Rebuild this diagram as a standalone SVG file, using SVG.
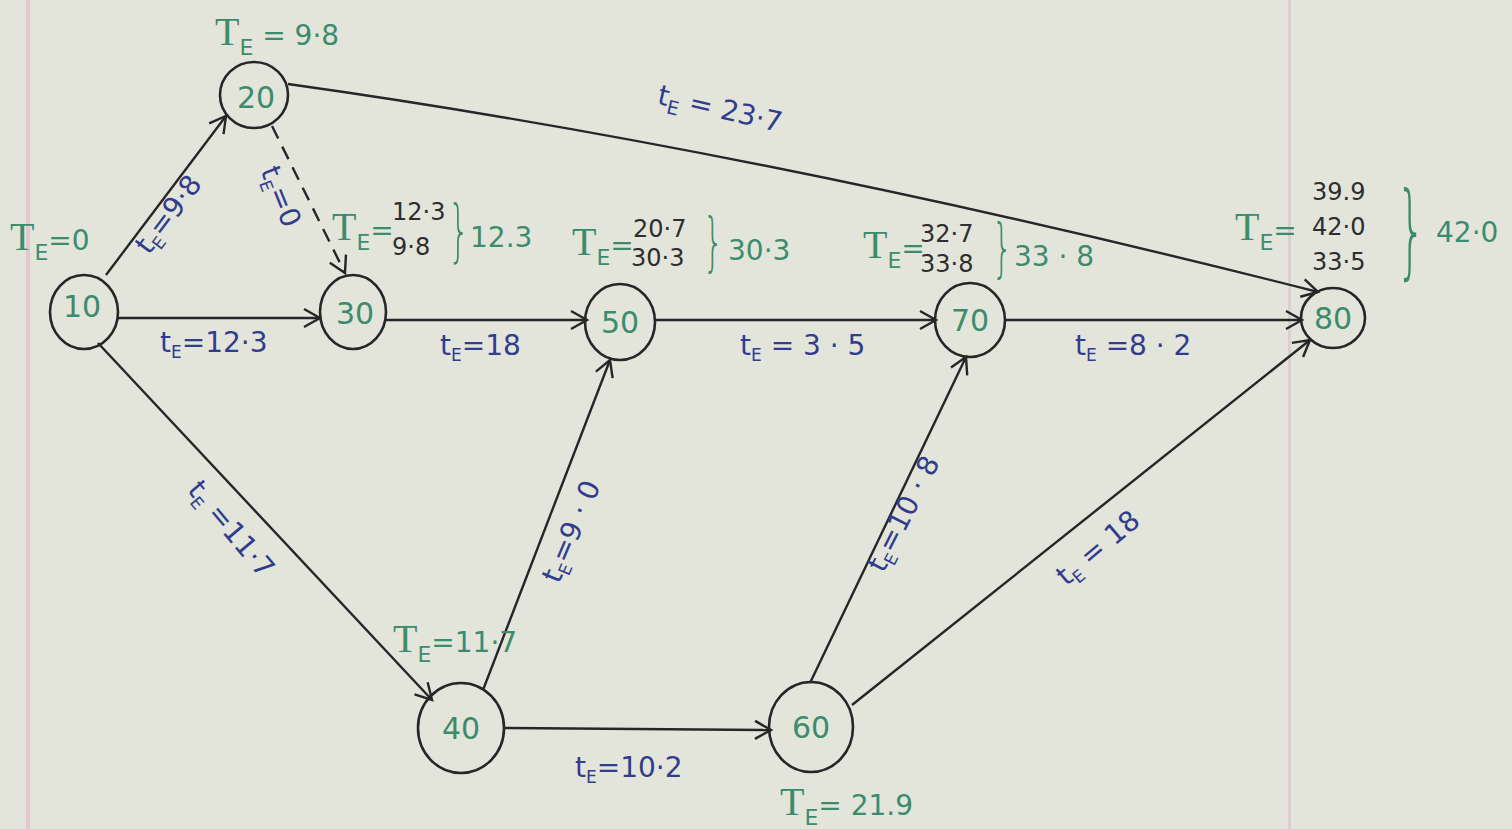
<svg xmlns="http://www.w3.org/2000/svg" width="1512" height="829" viewBox="0 0 1512 829">
<style>
.ln{stroke:#262626;stroke-width:2.4;fill:none}
.dash{stroke-dasharray:14 9}
.nd{fill:none;stroke:#262626;stroke-width:2.6}
.nt{fill:#3b8c6c;font-family:"DejaVu Sans",sans-serif;font-size:30px;text-anchor:middle;dominant-baseline:central}
.bl{fill:#303c8e;font-family:"DejaVu Sans",sans-serif;font-size:28px}
.gr{fill:#3b8c6c;font-family:"DejaVu Sans",sans-serif;font-size:28px}
.bk{fill:#2e2e2e;font-family:"DejaVu Sans",sans-serif;font-size:24px}
.T{font-family:"Liberation Serif",serif;font-size:40px}
.br{fill:#3b8c6c;font-family:"DejaVu Sans",sans-serif;font-weight:300}
</style>
<defs>
<marker id="ah" markerUnits="userSpaceOnUse" markerWidth="30" markerHeight="30" refX="0" refY="0" viewBox="-20 -15 25 30" orient="auto">
<path d="M-16,-9 L0,0 L-16,9" fill="none" stroke="#262626" stroke-width="2.4"/>
</marker>
</defs>
<rect x="0" y="0" width="1512" height="829" fill="#e3e5db"/>
<rect x="26" y="0" width="4" height="829" fill="#e2c9ce"/>
<rect x="1288" y="0" width="3" height="829" fill="#dccfd2"/>

<g id="connectors">
<line class="ln" x1="106" y1="275" x2="226" y2="116" marker-end="url(#ah)"/>
<line class="ln dash" x1="272" y1="126" x2="345" y2="273" marker-end="url(#ah)"/>
<path class="ln" d="M288,84 Q760,150 1318,292" marker-end="url(#ah)"/>
<line class="ln" x1="117" y1="318" x2="320" y2="318" marker-end="url(#ah)"/>
<line class="ln" x1="386" y1="320" x2="587" y2="320" marker-end="url(#ah)"/>
<line class="ln" x1="655" y1="320" x2="936" y2="320" marker-end="url(#ah)"/>
<line class="ln" x1="1005" y1="320" x2="1302" y2="320" marker-end="url(#ah)"/>
<line class="ln" x1="98" y1="343" x2="432" y2="700" marker-end="url(#ah)"/>
<line class="ln" x1="483" y1="690" x2="610" y2="360" marker-end="url(#ah)"/>
<line class="ln" x1="505" y1="728" x2="771" y2="730" marker-end="url(#ah)"/>
<line class="ln" x1="810" y1="683" x2="966" y2="357" marker-end="url(#ah)"/>
<line class="ln" x1="852" y1="705" x2="1310" y2="340" marker-end="url(#ah)"/>

<text class="bl" transform="translate(176,220) rotate(-53)" text-anchor="middle">t<tspan font-size="17" dy="6">E</tspan><tspan dy="-6">=9·8</tspan></text>
<text class="bl" transform="translate(272,200) rotate(68)" text-anchor="middle">t<tspan font-size="17" dy="6">E</tspan><tspan dy="-6">=0</tspan></text>
<text class="bl" transform="translate(718,118) rotate(13)" text-anchor="middle" font-size="31">t<tspan font-size="19" dy="7">E</tspan><tspan dy="-7"> = 23·7</tspan></text>
<text class="bl" x="160" y="352">t<tspan font-size="17" dy="6">E</tspan><tspan dy="-6">=12·3</tspan></text>
<text class="bl" x="440" y="355">t<tspan font-size="17" dy="6">E</tspan><tspan dy="-6">=18</tspan></text>
<text class="bl" x="740" y="355">t<tspan font-size="17" dy="6">E</tspan><tspan dy="-6"> = 3 · 5</tspan></text>
<text class="bl" x="1075" y="355">t<tspan font-size="17" dy="6">E</tspan><tspan dy="-6"> =8 · 2</tspan></text>
<text class="bl" transform="translate(224,535) rotate(50)" text-anchor="middle">t<tspan font-size="17" dy="6">E</tspan><tspan dy="-6"> =11·7</tspan></text>
<text class="bl" transform="translate(580,535) rotate(-67)" text-anchor="middle">t<tspan font-size="17" dy="6">E</tspan><tspan dy="-6">=9 · 0</tspan></text>
<text class="bl" transform="translate(912,518) rotate(-63)" text-anchor="middle">t<tspan font-size="17" dy="6">E</tspan><tspan dy="-6">=10 · 8</tspan></text>
<text class="bl" transform="translate(1104,555) rotate(-40)" text-anchor="middle">t<tspan font-size="17" dy="6">E</tspan><tspan dy="-6"> = 18</tspan></text>
<text class="bl" x="575" y="777">t<tspan font-size="17" dy="6">E</tspan><tspan dy="-6">=10·2</tspan></text>
</g>

<g id="n10">
<ellipse class="nd" cx="84" cy="312" rx="34" ry="37"/>
<text class="nt" x="82" y="306">10</text>
<text class="gr" x="10" y="250"><tspan class="T">T</tspan><tspan font-size="22" dy="10">E</tspan><tspan dy="-10">=0</tspan></text>
</g>
<g id="n20">
<ellipse class="nd" cx="254" cy="95" rx="34" ry="33"/>
<text class="nt" x="256" y="97">20</text>
<text class="gr" x="215" y="45"><tspan class="T">T</tspan><tspan font-size="22" dy="10">E</tspan><tspan dy="-10"> = 9·8</tspan></text>
</g>
<g id="n30">
<ellipse class="nd" cx="353" cy="312" rx="33" ry="37"/>
<text class="nt" x="355" y="313">30</text>
<text class="gr" x="332" y="240"><tspan class="T">T</tspan><tspan font-size="22" dy="10">E</tspan><tspan dy="-10">=</tspan></text>
<text class="bk" x="392" y="220">12·3</text>
<text class="bk" x="392" y="255">9·8</text>
<text class="br" x="448" y="254" font-size="68" transform="translate(448 0) scale(0.5 1) translate(-448 0)">}</text>
<text class="gr" x="470" y="247">12.3</text>
</g>
<g id="n50">
<ellipse class="nd" cx="620" cy="322" rx="35" ry="38"/>
<text class="nt" x="620" y="322">50</text>
<text class="gr" x="572" y="255"><tspan class="T">T</tspan><tspan font-size="22" dy="10">E</tspan><tspan dy="-10">=</tspan></text>
<text class="bk" x="633" y="237">20·7</text>
<text class="bk" x="631" y="266">30·3</text>
<text class="br" x="703" y="264" font-size="64" transform="translate(703 0) scale(0.5 1) translate(-703 0)">}</text>
<text class="gr" x="728" y="260">30·3</text>
</g>
<g id="n70">
<ellipse class="nd" cx="970" cy="320" rx="35" ry="37"/>
<text class="nt" x="970" y="320">70</text>
<text class="gr" x="863" y="258"><tspan class="T">T</tspan><tspan font-size="22" dy="10">E</tspan><tspan dy="-10">=</tspan></text>
<text class="bk" x="920" y="242">32·7</text>
<text class="bk" x="920" y="272">33·8</text>
<text class="br" x="992" y="270" font-size="64" transform="translate(992 0) scale(0.5 1) translate(-992 0)">}</text>
<text class="gr" x="1014" y="266">33 · 8</text>
</g>
<g id="n80">
<ellipse class="nd" cx="1333" cy="318" rx="32" ry="30"/>
<text class="nt" x="1333" y="318">80</text>
<text class="gr" x="1235" y="240"><tspan class="T">T</tspan><tspan font-size="22" dy="10">E</tspan><tspan dy="-10">=</tspan></text>
<text class="bk" x="1312" y="200">39.9</text>
<text class="bk" x="1312" y="235">42·0</text>
<text class="bk" x="1312" y="270">33·5</text>
<text class="br" x="1396" y="266" font-size="104" transform="translate(1396 0) scale(0.45 1) translate(-1396 0)">}</text>
<text class="gr" x="1436" y="242">42·0</text>
</g>
<g id="n40">
<ellipse class="nd" cx="461" cy="728" rx="43" ry="45"/>
<text class="nt" x="461" y="728">40</text>
<text class="gr" x="393" y="652"><tspan class="T">T</tspan><tspan font-size="22" dy="10">E</tspan><tspan dy="-10">=11·7</tspan></text>
</g>
<g id="n60">
<ellipse class="nd" cx="811" cy="727" rx="42" ry="45"/>
<text class="nt" x="811" y="727">60</text>
<text class="gr" x="780" y="815" font-size="32"><tspan class="T">T</tspan><tspan font-size="22" dy="10">E</tspan><tspan dy="-10">= 21.9</tspan></text>
</g>
</svg>
